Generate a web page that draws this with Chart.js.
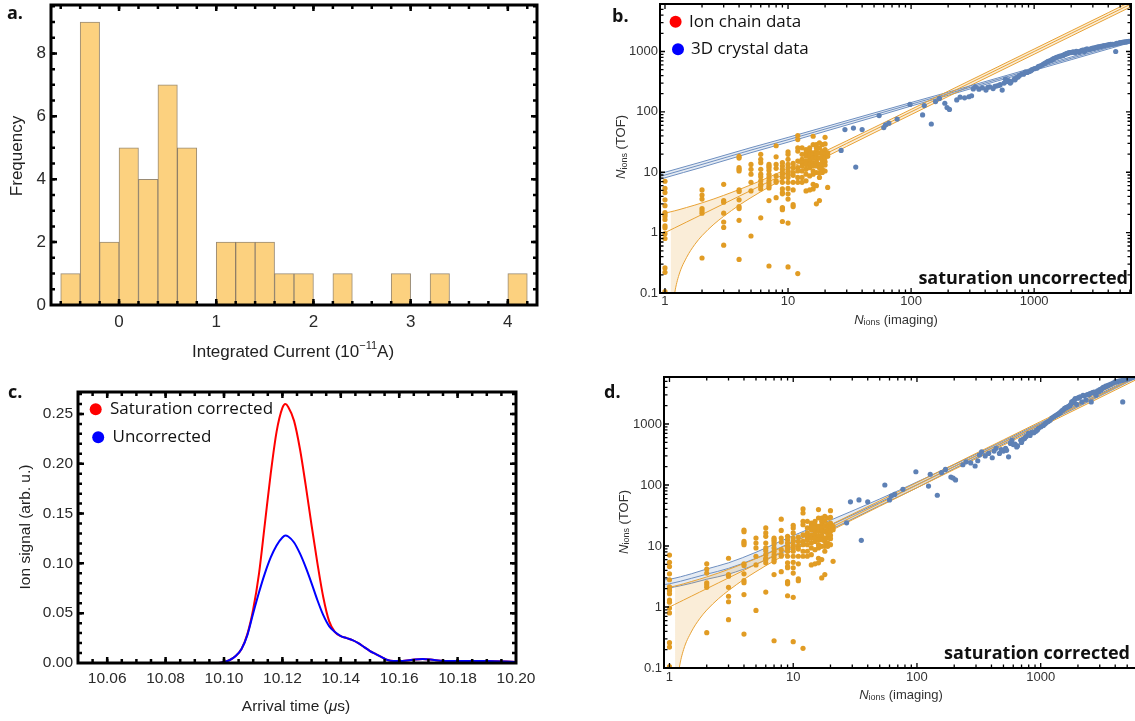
<!DOCTYPE html>
<html>
<head>
<meta charset="utf-8">
<script src="https://cdn.jsdelivr.net/npm/chart.js@4.4.1/dist/chart.umd.min.js"></script>
<style>
html, body { margin: 0; padding: 0; overflow: hidden; background: #fff; width: 1135px; height: 721px; }
canvas { position: absolute; }
</style>
</head>
<body>
<canvas id="pa" width="560" height="365" style="left:0;top:0"></canvas>
<canvas id="pb" width="565" height="340" style="left:570px;top:0"></canvas>
<canvas id="pc" width="560" height="351" style="left:0;top:370px"></canvas>
<canvas id="pd" width="570" height="371" style="left:570px;top:350px"></canvas>
<script>
// ---- panel a: histogram of integrated current ----
const binCenters = [-0.5, -0.3, -0.1, 0.1, 0.3, 0.5, 0.7, 1.1, 1.3, 1.5, 1.7, 1.9, 2.3, 2.9, 3.3, 4.1];
const binCounts  = [1, 9, 2, 5, 4, 7, 5, 2, 2, 2, 1, 1, 1, 1, 1, 1];
const histTicksX = [0, 1, 2, 3, 4];
const histTicksY = [0, 2, 4, 6, 8];

// ---- panels b/d: ion chain data (imaging count -> TOF counts) ----
const chainN = [1, 2, 3, 4, 5, 6, 7, 8, 9, 10, 11, 12, 13, 14, 15, 16, 17, 18, 19, 20, 21];
const chainTOF = [
  [7.1, 5.4, 4.6, 3.5, 2.8, 2.15, 2.0, 1.85, 1.65, 1.3, 1.2, 0.96, 0.8, 0.26, 0.22, 0.105],
  [5.1, 4.2, 3.6, 2.5, 2.3, 2.1, 0.38],
  [6.3, 3.4, 3.2, 2.1, 1.5, 1.22, 0.62],
  [18.3, 17.2, 11.9, 11.2, 10.5, 5.1, 4.8, 3.5, 2.7, 2.5, 1.6, 0.36],
  [13.5, 11.2, 9.3, 6.8, 4.9, 0.88],
  [19.8, 16.4, 14.4, 11.2, 9.3, 8.4, 7.2, 6.3, 6.0, 5.3, 1.76],
  [13.5, 12.7, 11.9, 10.8, 9.3, 8.2, 7.2, 6.5, 5.9, 5.5, 3.4, 0.28],
  [27.5, 18, 13.5, 11.6, 8.7, 7.2, 6.8, 3.8],
  [14.4, 12.7, 11.2, 9.9, 9.3, 8.2, 6.8, 5.3, 4.6, 4.4, 2.6, 2.5, 2.4, 1.53],
  [21.8, 19.8, 16.4, 13.5, 11.9, 10.2, 9.3, 8.2, 6.8, 5.4, 4.4, 3.6, 1.44, 0.27],
  [14, 11.9, 9.9, 8.9, 6.8, 5.1, 2.9, 2.7],
  [40.5, 34.8, 25.4, 22.4, 15.3, 11.9, 10.5, 8.2, 6.8, 0.21],
  [25.4, 19.8, 16.4, 14.4, 12.7, 10.5, 8.2, 6.8],
  [23.7, 21, 18.5, 15.3, 13.5, 11.2, 9.3, 7.2, 4.9],
  [25.4, 22.4, 19.8, 17.4, 15.3, 13.5, 11.9, 8.7, 5.1],
  [39.5, 28.8, 21, 19.2, 17.4, 14.4, 12.7, 10.5, 9.3, 6.3, 5.3],
  [28.8, 25.4, 22.4, 19.8, 17.4, 14.9, 12.7, 9.9, 6.0, 3.0],
  [30.7, 25.4, 21, 17.4, 13.5, 11.9, 9.9, 8.2, 3.4],
  [28.8, 22.4, 20.3, 17.8, 15.7, 13.5, 11.2, 9.9],
  [37.9, 29.5, 23.7, 20.3, 17.4, 14.9, 13.2, 10.5],
  [21, 18.5, 5.6]
];

// 3D crystal data (imaging count, TOF uncorrected, TOF saturation corrected)
const crystalN = [27, 29, 34, 35.5, 40, 55, 60, 62, 66, 77,
  98, 124, 128, 146, 158, 170, 188, 196, 205, 235,
  250, 272, 295, 310, 320, 333, 356, 406, 436, 464,
  500, 530, 550, 570, 585, 620, 650, 690, 717, 760,
  795, 846, 914, 960, 1005, 1050, 1110, 1190, 1270, 1340,
  1411, 1480, 1560, 1640, 1720, 1780, 1840, 1900, 1950, 2030,
  2150, 2250, 2320, 2450, 2560, 2660, 2800, 2950, 3060, 3200,
  3350, 3500, 3700, 3990, 4200, 4560, 4600, 4900, 5200, 5500, 5750,
  380, 420, 480, 520, 600, 640, 700, 740, 820, 880, 940,
  1080, 1150, 1230, 1300, 1380, 1440, 1520, 1600, 1680, 1750,
  1810, 1870, 1990, 2080, 2200, 2380, 2500, 2600, 2720, 2880,
  3000, 3120, 3280, 3420, 3600, 3850, 4100, 4350, 4700, 5000, 5350, 5650, 5900];
const crystalTOFRaw = [23, 51, 54, 12.2, 51, 87, 55, 61, 65, 76,
  133, 89, 127, 63, 148, 167, 139, 118, 110, 158,
  175, 171, 178, 185, 240, 260, 237, 230, 260, 243,
  270, 282, 230, 300, 348, 330, 316, 350, 366, 400,
  427, 456, 467, 500, 520, 530, 573, 620, 670, 700,
  740, 780, 810, 840, 860, 900, 920, 950, 960, 970,
  950, 1000, 970, 1050, 1000, 1100, 1080, 1120, 1130, 1170,
  1200, 1220, 1250, 1290, 1310, 1330, 1000, 1380, 1420, 1440, 1460,
  250, 255, 265, 275, 320, 300, 340, 380, 420, 450, 480,
  560, 590, 640, 690, 720, 760, 800, 830, 850, 880,
  910, 930, 960, 990, 1010, 1020, 1060, 1070, 1100, 1110,
  1140, 1150, 1180, 1200, 1230, 1270, 1300, 1320, 1360, 1400, 1430, 1450, 1480];
const crystalTOFCorr = [24, 53, 57, 12.4, 53, 100, 57, 66, 70, 85,
  165, 96, 150, 68, 160, 180, 135, 130, 121, 215,
  240, 230, 205, 250, 310, 350, 300, 280, 400, 330,
  360, 370, 290, 480, 540, 470, 440, 540, 560, 620,
  700, 720, 760, 850, 900, 950, 1050, 1150, 1300, 1400,
  1500, 1650, 1800, 1900, 2000, 2300, 2400, 2600, 2100, 2700,
  2300, 2900, 2500, 3000, 2300, 3300, 2950, 3400, 3600, 4000,
  4200, 4300, 4500, 4900, 5000, 5200, 2300, 5400, 5600, 5800, 6000,
  330, 360, 380, 400, 460, 420, 500, 580, 650, 720, 800,
  1000, 1100, 1250, 1350, 1450, 1550, 1700, 1850, 1950, 2100,
  2250, 2450, 2650, 2800, 2950, 3050, 3150, 3250, 3350, 3500,
  3650, 3800, 4000, 4150, 4400, 4700, 4900, 5100, 5300, 5500, 5700, 5900, 6100];

// fit of the chain data with its confidence band
const chainFitN   = [1, 1.1, 1.2, 1.3, 1.5, 1.75, 2, 2.5, 3, 4, 5, 7, 10, 15, 20, 30, 50, 100, 200, 500, 1000, 2000, 4000, 7000];
const chainFitMid = [1, 1.1, 1.2, 1.3, 1.5, 1.75, 2, 2.5, 3, 4, 5, 7, 10, 15, 20, 30, 50, 100, 200, 500, 1000, 2000, 4000, 7000];
const chainFitHi  = [2.10, 2.20, 2.30, 2.40, 2.61, 2.86, 3.11, 3.62, 4.14, 5.16, 6.20, 8.30, 11.5, 16.8, 22.3, 33.2, 55.1, 110, 220, 550, 1100, 2200, 4400, 7700];
const chainLoN    = [1.11, 1.15, 1.2, 1.3, 1.5, 1.75, 2, 2.5, 3, 4, 5, 7, 10, 15, 20, 30, 50, 100, 200, 500, 1000, 2000, 4000, 7000];
const chainFitLo  = [0.01, 0.05, 0.10, 0.20, 0.39, 0.64, 0.89, 1.38, 1.86, 2.84, 3.80, 5.70, 8.51, 13.2, 17.7, 26.8, 44.9, 90, 180, 450, 900, 1800, 3600, 6300];

// fit of the crystal data, uncorrected (b)
const rawFitN   = [0.85, 1, 2, 5, 10, 20, 50, 100, 200, 500, 1000, 2000, 4000, 7000];
const rawFitMid = [8.2, 9.0, 13.5, 23.3, 34.6, 52, 89, 134, 200, 343, 515, 772, 1160, 1610];
const rawFitHi  = [9.1, 10.0, 14.9, 25.6, 37.8, 56.5, 96, 143, 212, 362, 543, 813, 1220, 1690];
const rawFitLo  = [7.3, 8.1, 12.1, 21.1, 31.5, 47.6, 82, 125, 188, 324, 487, 731, 1100, 1530];

// fit of the crystal data, saturation corrected (d)
const corrFitN   = [0.85, 1, 1.5, 2, 3, 5, 7, 10, 20, 50, 100, 200, 500, 1000, 2000, 4000, 7000];
const corrFitMid = [2.3, 2.4, 2.95, 3.45, 4.3, 6.3, 8.5, 11.8, 22, 52, 101, 201, 500, 1000, 2000, 4000, 7000];
const corrFitHi  = [2.75, 2.85, 3.5, 4.2, 5.3, 7.9, 10.7, 14.8, 26.5, 59, 112, 216, 530, 1050, 2090, 4160, 7250];
const corrFitLo  = [1.95, 2.05, 2.45, 2.85, 3.45, 5.0, 6.8, 9.3, 18.5, 46, 90, 186, 470, 950, 1910, 3840, 6750];

const logTicksX = [1, 10, 100, 1000];
const logTicksY = [0.1, 1, 10, 100, 1000];
const legendB = ['Ion chain data', '3D crystal data'];

// ---- panel c: arrival time spectrum ----
const arrival = [10.05, 10.07, 10.09, 10.098, 10.100, 10.102, 10.104, 10.106, 10.108, 10.110, 10.112, 10.114, 10.116, 10.118, 10.120,
  10.121, 10.122, 10.124, 10.126, 10.128, 10.130, 10.132, 10.134, 10.136, 10.138, 10.140, 10.142, 10.144, 10.146, 10.148,
  10.150, 10.152, 10.154, 10.156, 10.158, 10.160, 10.164, 10.168, 10.172, 10.176, 10.180, 10.190, 10.200];
const signalCorr = [0, 0, 0, 0, 0.001, 0.003, 0.007, 0.014, 0.029, 0.054, 0.09, 0.14, 0.19, 0.232, 0.256,
  0.26, 0.257, 0.243, 0.215, 0.178, 0.138, 0.1, 0.066, 0.042, 0.031, 0.027, 0.025, 0.023, 0.02, 0.016,
  0.012, 0.009, 0.006, 0.003, 0.002, 0.002, 0.003, 0.004, 0.003, 0.002, 0.002, 0.002, 0.001];
const signalRaw = [0, 0, 0, 0, 0.001, 0.003, 0.007, 0.014, 0.028, 0.05, 0.071, 0.09, 0.106, 0.118, 0.126,
  0.128, 0.127, 0.121, 0.11, 0.096, 0.08, 0.063, 0.048, 0.037, 0.031, 0.027, 0.025, 0.023, 0.02, 0.016,
  0.012, 0.009, 0.006, 0.003, 0.002, 0.002, 0.003, 0.004, 0.003, 0.002, 0.002, 0.002, 0.001];
const timeTicks = [10.06, 10.08, 10.10, 10.12, 10.14, 10.16, 10.18, 10.20];
const signalTicks = [0, 0.05, 0.10, 0.15, 0.20, 0.25];
const legendC = ['Saturation corrected', 'Uncorrected'];

// ---------------------------------------------------------------
const SANS = '"Liberation Sans", Arial, sans-serif';
const OPEN = '"Open Sans", sans-serif';
const ORANGE = '#e19c24';
const BLUE = '#5e81b5';

const pts = (xs, ys) => xs.map((x, i) => ({x: x, y: ys[i]}));
const range = (a, b, step) => { const out = []; for (let v = a; v <= b + step / 1000; v += step) out.push(+v.toFixed(4)); return out; };
const logMinor = (lo, hi) => { const out = []; for (let d = lo; d <= hi; d *= 10) for (let k = 2; k <= 9; k++) out.push(d * k); return out; };

function drawText(ctx, t) {
  const runs = t.runs || [{t: t.t, font: t.font}];
  ctx.save();
  ctx.translate(t.x, t.y);
  if (t.rotate) ctx.rotate(t.rotate);
  ctx.textBaseline = t.baseline || 'middle';
  ctx.fillStyle = t.color || '#222';
  let total = 0;
  const widths = runs.map(r => { ctx.font = r.font; const w = ctx.measureText(r.t).width; total += w; return w; });
  let x = t.align === 'center' ? -total / 2 : (t.align === 'right' ? -total : 0);
  runs.forEach((r, i) => { ctx.font = r.font; ctx.textAlign = 'left'; ctx.fillText(r.t, x, r.dy || 0); x += widths[i]; });
  ctx.restore();
}

// frame with inward ticks on the sides, plus free text / legend marks
const decor = {
  id: 'decor',
  afterDraw(chart, args, o) {
    if (!o || !o.frame) return;
    const ctx = chart.ctx, a = chart.chartArea, xs = chart.scales.x, ys = chart.scales.y;
    ctx.save();
    ctx.strokeStyle = '#000';
    ctx.lineWidth = o.tickWidth;
    const xt = (vals, len) => {
      ctx.beginPath();
      vals.forEach(v => {
        const p = xs.getPixelForValue(v);
        if (p < a.left + 1 || p > a.right - 1) return;
        ctx.moveTo(p, a.bottom); ctx.lineTo(p, a.bottom - len);
        ctx.moveTo(p, a.top); ctx.lineTo(p, a.top + len);
      });
      ctx.stroke();
    };
    const yt = (vals, len) => {
      ctx.beginPath();
      vals.forEach(v => {
        const p = ys.getPixelForValue(v);
        if (p < a.top + 1 || p > a.bottom - 1) return;
        ctx.moveTo(a.left, p); ctx.lineTo(a.left + len, p);
        if (!o.noRight) { ctx.moveTo(a.right, p); ctx.lineTo(a.right - len, p); }
      });
      ctx.stroke();
    };
    xt(o.xMajor, o.major); xt(o.xMinor, o.minor);
    yt(o.yMajor, o.major); yt(o.yMinor, o.minor);
    ctx.lineWidth = o.frame;
    ctx.strokeRect(a.left, a.top, a.right - a.left, a.bottom - a.top);
    (o.dots || []).forEach(d => {
      ctx.fillStyle = d.color;
      ctx.beginPath(); ctx.arc(d.x, d.y, d.r, 0, Math.PI * 2); ctx.fill();
    });
    (o.texts || []).forEach(t => drawText(ctx, t));
    ctx.restore();
  }
};
Chart.register(decor);

function axis(o) {
  return {
    type: o.type || 'linear', min: o.min, max: o.max, offset: false,
    grid: {display: false, drawTicks: false}, border: {display: false},
    ticks: {autoSkip: false, maxRotation: 0, padding: o.pad, color: o.color || '#2a2a2a',
            font: {family: SANS, size: o.size}, callback: o.fmt},
    afterBuildTicks: s => { s.ticks = o.ticks.map(v => ({value: v})); },
    afterFit: s => {
      if (o.w) s.width = o.w;
      if (o.h) s.height = o.h;
      s.paddingLeft = s.paddingRight = s.paddingTop = s.paddingBottom = 0;
    }
  };
}

const base = {responsive: false, animation: false, events: []};

// ---- a ----
new Chart(document.getElementById('pa'), {
  type: 'bar',
  data: {datasets: [{
    data: pts(binCenters, binCounts),
    backgroundColor: 'rgb(252, 209, 127)',
    borderColor: 'rgba(120, 100, 70, 0.75)',
    borderWidth: 1, barPercentage: 1, categoryPercentage: 1
  }]},
  options: Object.assign({}, base, {
    layout: {padding: {left: 0, top: 5, right: 23, bottom: 30}},
    plugins: {
      legend: {display: false}, tooltip: {enabled: false},
      decor: {
        frame: 3, tickWidth: 2.5, major: 6, minor: 4,
        xMajor: histTicksX, xMinor: range(-0.6, 4.2, 0.2),
        yMajor: histTicksY, yMinor: range(0.5, 9.5, 0.5),
        texts: [
          {t: 'a.', font: 'bold 18px ' + OPEN, x: 7, y: 19, baseline: 'alphabetic', color: '#111'},
          {t: 'Frequency', font: '17px ' + SANS, x: 17, y: 156, align: 'center', rotate: -Math.PI / 2},
          {runs: [{t: 'Integrated Current (10', font: '17px ' + SANS},
                  {t: '\u221211', font: '11px ' + SANS, dy: -6},
                  {t: 'A)', font: '17px ' + SANS}], x: 293, y: 352, align: 'center'}
        ]
      }
    },
    scales: {
      x: axis({min: -0.7, max: 4.3, ticks: histTicksX, size: 17, pad: 7, h: 30, fmt: v => String(v)}),
      y: axis({min: 0, max: 9.54, ticks: histTicksY, size: 17, pad: 5, w: 51, fmt: v => String(v)})
    }
  })
});

// ---- b and d ----
function logPanel(id, o) {
  const line = (xs, ys, color, extra) => Object.assign({
    data: pts(xs, ys), showLine: true, borderColor: color, borderWidth: 1,
    pointRadius: 0, fill: false, order: 1, cubicInterpolationMode: 'monotone'
  }, extra || {});
  const chainPts = chainN.flatMap((n, i) => chainTOF[i].map(y => ({x: n, y: y})));
  new Chart(document.getElementById(id), {
    type: 'scatter',
    data: {datasets: [
      {data: chainPts, backgroundColor: ORANGE, pointRadius: 2.6, pointBorderWidth: 0, order: 0},
      {data: pts(crystalN, o.crystalY), backgroundColor: BLUE, pointRadius: 2.6, pointBorderWidth: 0, order: 0},
      line(chainFitN, chainFitMid, '#e8a235'),
      line(chainFitN, chainFitHi, '#e8a235'),
      line(chainLoN, chainFitLo, '#e8a235', {fill: 3, backgroundColor: 'rgba(226, 156, 40, 0.18)', order: 2}),
      line(o.fitN, o.fitMid, '#6e8fc0'),
      line(o.fitN, o.fitHi, '#6e8fc0'),
      line(o.fitN, o.fitLo, '#6e8fc0', {fill: 6, backgroundColor: 'rgba(94, 129, 181, 0.16)', order: 2})
    ]},
    options: Object.assign({}, base, {
      layout: {padding: o.padding},
      plugins: {
        legend: {display: false}, tooltip: {enabled: false},
        decor: {
          frame: 2, tickWidth: 1.3, major: 5, minor: 3.5, noRight: o.noRight,
          xMajor: logTicksX, xMinor: logMinor(0.1, 1000),
          yMajor: logTicksY, yMinor: logMinor(0.01, 1000),
          dots: o.dots, texts: o.texts
        }
      },
      scales: {
        x: axis({type: 'logarithmic', min: o.xMin, max: o.xMax, ticks: logTicksX, size: 13, pad: o.xPad, h: 30, color: '#333', fmt: v => String(v)}),
        y: axis({type: 'logarithmic', min: 0.1, max: o.yMax, ticks: logTicksY, size: 13, pad: 2, w: o.yW, color: '#333', fmt: v => String(v)})
      }
    })
  });
}

const nRuns = (rest) => [
  {t: 'N', font: 'italic 13px ' + SANS},
  {t: 'ions', font: '9px ' + SANS, dy: 3},
  {t: rest, font: '13px ' + SANS}
];

logPanel('pb', {
  crystalY: crystalTOFRaw, fitN: rawFitN, fitMid: rawFitMid, fitHi: rawFitHi, fitLo: rawFitLo,
  padding: {left: 0, top: 1, right: 3, bottom: 17}, yW: 90, xPad: 1,
  xMin: 0.911, xMax: 6125, yMax: 6125,
  dots: [{x: 105.6, y: 21.7, r: 6, color: '#ff0000'}, {x: 108, y: 49.3, r: 6, color: '#0000ff'}],
  texts: [
    {t: 'b.', font: 'bold 18px ' + OPEN, x: 42, y: 22, baseline: 'alphabetic', color: '#111'},
    {t: legendB[0], font: '17px ' + OPEN, x: 119, y: 22, color: '#111'},
    {t: legendB[1], font: '17px ' + OPEN, x: 121, y: 49.5, color: '#111'},
    {t: 'saturation uncorrected', font: 'bold 18px ' + OPEN, x: 558, y: 284, align: 'right', baseline: 'alphabetic', color: '#111'},
    {runs: nRuns(' (TOF)'), x: 51.5, y: 147, align: 'center', rotate: -Math.PI / 2, color: '#333'},
    {runs: nRuns(' (imaging)'), x: 326, y: 320, align: 'center', color: '#333'}
  ]
});

logPanel('pd', {
  crystalY: crystalTOFCorr, fitN: corrFitN, fitMid: corrFitMid, fitHi: corrFitHi, fitLo: corrFitLo,
  padding: {left: 0, top: 27, right: 3, bottom: 23}, yW: 94, xPad: 2, noRight: true,
  xMin: 0.903, xMax: 5890, yMax: 5900,
  texts: [
    {t: 'd.', font: 'bold 18px ' + OPEN, x: 34, y: 48, baseline: 'alphabetic', color: '#111'},
    {t: 'saturation corrected', font: 'bold 18px ' + OPEN, x: 560, y: 309, align: 'right', baseline: 'alphabetic', color: '#111'},
    {runs: nRuns(' (TOF)'), x: 54, y: 172, align: 'center', rotate: -Math.PI / 2, color: '#333'},
    {runs: nRuns(' (imaging)'), x: 331, y: 345, align: 'center', color: '#333'}
  ]
});

// ---- c ----
new Chart(document.getElementById('pc'), {
  type: 'scatter',
  data: {datasets: [
    {data: pts(arrival, signalRaw), showLine: true, borderColor: '#0000ff', borderWidth: 2, pointRadius: 0, cubicInterpolationMode: 'monotone'},
    {data: pts(arrival, signalCorr), showLine: true, borderColor: '#ff0000', borderWidth: 2, pointRadius: 0, cubicInterpolationMode: 'monotone'}
  ]},
  options: Object.assign({}, base, {
    layout: {padding: {left: 0, top: 22, right: 44, bottom: 28}},
    plugins: {
      legend: {display: false}, tooltip: {enabled: false},
      decor: {
        frame: 3, tickWidth: 2.5, major: 6, minor: 4,
        xMajor: timeTicks, xMinor: range(10.055, 10.195, 0.005),
        yMajor: signalTicks, yMinor: range(0.01, 0.27, 0.01),
        dots: [{x: 95.7, y: 39.3, r: 6, color: '#ff0000'}, {x: 98.2, y: 67.3, r: 6, color: '#0000ff'}],
        texts: [
          {t: 'c.', font: 'bold 18px ' + OPEN, x: 8, y: 28, baseline: 'alphabetic', color: '#111'},
          {t: legendC[0], font: '17px ' + OPEN, x: 110, y: 39.5, color: '#111'},
          {t: legendC[1], font: '17px ' + OPEN, x: 112.5, y: 67.5, color: '#111'},
          {t: 'Ion signal (arb. u.)', font: '15.5px ' + SANS, x: 26, y: 157, align: 'center', rotate: -Math.PI / 2},
          {runs: [{t: 'Arrival time (', font: '15.5px ' + SANS},
                  {t: '\u03bc', font: 'italic 15.5px ' + SANS},
                  {t: 's)', font: '15.5px ' + SANS}], x: 296, y: 337, align: 'center'}
        ]
      }
    },
    scales: {
      x: axis({min: 10.05, max: 10.20, ticks: timeTicks, size: 15.5, pad: 6, h: 30, fmt: v => v.toFixed(2)}),
      y: axis({min: 0, max: 0.272, ticks: signalTicks, size: 15.5, pad: 5, w: 78, fmt: v => v.toFixed(2)})
    }
  })
});
</script>
</body>
</html>
